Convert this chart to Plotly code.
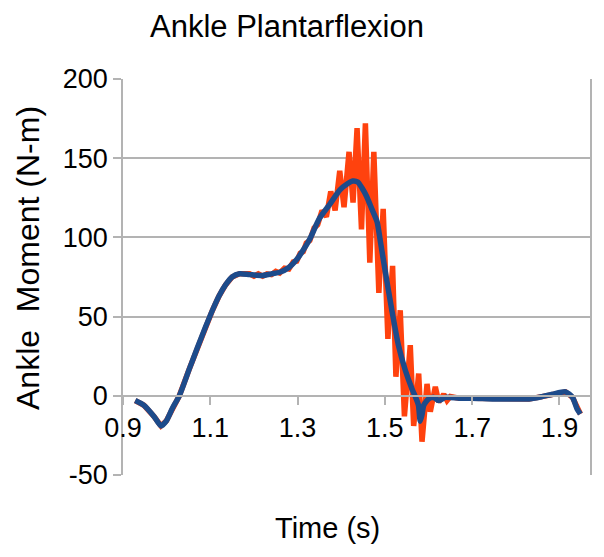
import plotly.graph_objects as go

# Filtered (blue) series
blue_t = [0.928, 0.948, 0.971, 0.987, 0.999, 1.013, 1.029, 1.052, 1.07, 1.09,
          1.105, 1.12, 1.135, 1.15, 1.167, 1.19, 1.22, 1.24, 1.259, 1.28,
          1.298, 1.313, 1.328, 1.35, 1.374, 1.397, 1.415, 1.426, 1.438, 1.448,
          1.458, 1.47, 1.482, 1.49, 1.5, 1.516, 1.531, 1.547, 1.562, 1.572,
          1.577, 1.581, 1.585, 1.589, 1.6, 1.612, 1.623, 1.639, 1.67, 1.7,
          1.75, 1.8, 1.83, 1.86, 1.884, 1.914, 1.93, 1.94, 1.948]
blue_v = [-3, -6, -13, -19, -16, -8, 0, 17, 30, 44,
          54, 63, 70, 75, 77, 76.5, 76, 77, 78, 81,
          86, 92, 99, 112, 121, 130, 134, 135.6, 135, 131,
          126, 118, 110, 97, 80, 54, 32, 16, 4.5, -2,
          -6, -16, -12, -6, -2, -1, -3, -1, -1.5, -1.5,
          -2, -2, -2, -0.5, 1, 2.5, -1, -8, -11.5]

# Raw (orange) series
orange_t = [0.928, 0.948, 0.971, 0.987, 0.999, 1.013, 1.029, 1.052, 1.07, 1.09,
            1.105, 1.12, 1.135, 1.15, 1.167, 1.19, 1.2, 1.21, 1.22, 1.23,
            1.24, 1.25, 1.259, 1.27, 1.28, 1.29, 1.298, 1.306, 1.313, 1.32,
            1.328, 1.338, 1.346, 1.356, 1.366, 1.376, 1.386, 1.3966, 1.4064, 1.4179,
            1.4271, 1.4363, 1.4464, 1.4554, 1.4655, 1.4747, 1.4862, 1.4961, 1.5069, 1.5177,
            1.5253, 1.5352, 1.5448, 1.5582, 1.566, 1.5775, 1.5851, 1.5966, 1.6041, 1.6156,
            1.6234, 1.6349, 1.6425, 1.65, 1.67, 1.7, 1.75, 1.8, 1.83, 1.86,
            1.884, 1.914, 1.93, 1.94, 1.948]
orange_v = [-3, -6, -13, -19, -16, -8, 0, 17, 30, 44,
            54, 63, 70, 75, 77, 77, 75.5, 77, 75.5, 77,
            76.5, 78.5, 77.5, 80.5, 80, 84.5, 85, 90, 91, 96.5,
            98, 106, 108, 117, 113, 129, 117, 142, 119, 154,
            122, 169, 105, 172, 84, 154, 65, 118, 36, 82,
            12, 54, -13, 32, -19, 14, -29, 7.5, -10, 5.7,
            -4, 1, -3, -0.5, -1.5, -1.5, -2, -2, -2, -0.5,
            1, 2.5, -1, -8, -11.5]

x_ticks = [0.9, 1.1, 1.3, 1.5, 1.7, 1.9]
x_labels = ["0.9", "1.1", "1.3", "1.5", "1.7", "1.9"]
y_ticks = [-50, 0, 50, 100, 150, 200]
y_labels = ["-50", "0", "50", "100", "150", "200"]

FONT = "Liberation Sans, Arial, sans-serif"
GRID = "#b3b3b3"

fig = go.Figure()
fig.add_trace(go.Scatter(x=orange_t, y=orange_v, mode="lines",
                         line=dict(color="#ff420e", width=5.5), name="Raw"))
fig.add_trace(go.Scatter(x=blue_t, y=blue_v, mode="lines",
                         line=dict(color="#1d4b8b", width=5.5, shape="spline", smoothing=0.6),
                         name="Filtered"))

fig.update_layout(
    template="none",
    width=604, height=557,
    margin=dict(l=123, r=14, t=79, b=82, autoexpand=False),
    paper_bgcolor="white", plot_bgcolor="white",
    showlegend=False,
    font=dict(family=FONT, size=27, color="#000000"),
    title=dict(text="Ankle Plantarflexion", x=287 / 604, xanchor="center",
               y=1 - 26 / 557, yanchor="middle", xref="container", yref="container",
               font=dict(size=31, family=FONT, color="#000000")),
    xaxis=dict(range=[0.9, 1.97], tickvals=x_ticks, ticktext=x_labels,
               anchor="free", position=0.2, showgrid=False, zeroline=False, automargin=False,
               showline=True, linecolor=GRID, linewidth=1.5,
               ticks="outside", ticklen=8, tickcolor=GRID, tickwidth=1.5,
               tickfont=dict(size=27, family=FONT, color="#000000")),
    yaxis=dict(range=[-50, 200], tickvals=y_ticks, ticktext=y_labels, domain=[0, 1],
               automargin=False,
               showgrid=True, gridcolor=GRID, gridwidth=1.5, zeroline=False,
               showline=True, linecolor=GRID, linewidth=1.5, mirror=True,
               ticks="outside", ticklen=8, tickcolor=GRID, tickwidth=1.5,
               tickfont=dict(size=27, family=FONT, color="#000000")),
    annotations=[
        dict(text="Ankle  Moment (N-m)", textangle=-90, xref="paper", yref="paper",
             x=(28 - 123) / 467, y=(475 - 258) / 396, xanchor="center", yanchor="middle",
             showarrow=False, font=dict(size=32, family=FONT, color="#000000")),
        dict(text="Time (s)", xref="paper", yref="paper",
             x=(327 - 123) / 467, y=(475 - 528) / 396, xanchor="center", yanchor="middle",
             showarrow=False, font=dict(size=29, family=FONT, color="#000000")),
    ],
)

fig.write_html("out.html", config={"displayModeBar": False},
               post_script="document.body.style.margin='0px';")
